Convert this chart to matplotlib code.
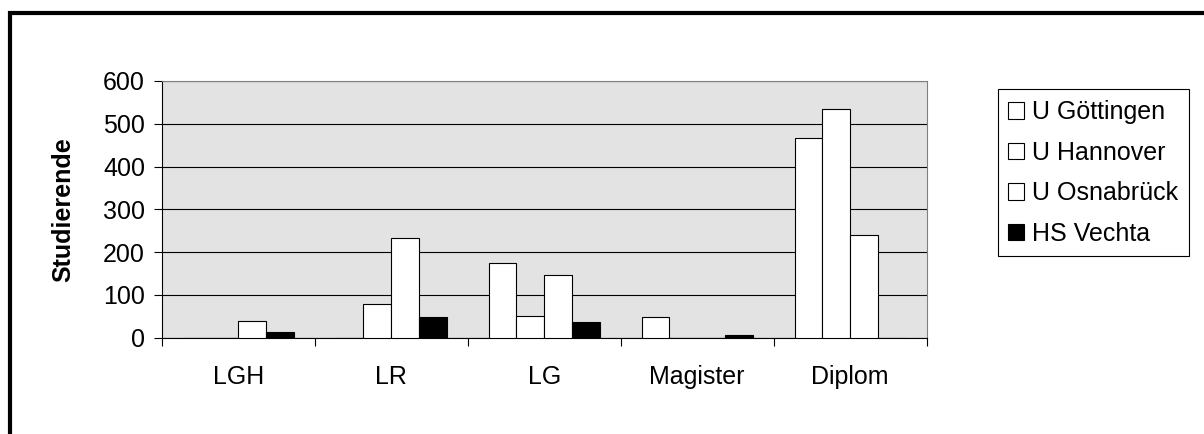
import matplotlib.pyplot as plt
import matplotlib.patches as mpatches
import numpy as np

plt.rcParams['font.family'] = ['Liberation Sans', 'DejaVu Sans']

categories = ["LGH", "LR", "LG", "Magister", "Diplom"]
series = ["U Göttingen", "U Hannover", "U Osnabrück", "HS Vechta"]
goettingen = [0, 0, 175, 48, 466]
hannover = [0, 79, 51, 0, 534]
osnabrueck = [38, 232, 147, 0, 241]
vechta = [14, 49, 37, 6, 0]
values = [goettingen, hannover, osnabrueck, vechta]
colors = ["white", "white", "white", "black"]

fig = plt.figure(figsize=(12.04, 4.34), dpi=100)
ax = fig.add_axes([0.1343, 0.2219, 0.6354, 0.5915])
ax.set_facecolor("#e3e3e3")

x = np.arange(len(categories))
w = 0.182
for i, (name, vals) in enumerate(zip(series, values)):
    ax.bar(x + (i - 1.5) * w, vals, w, color=colors[i], edgecolor="black",
           linewidth=0.8, label=name, zorder=3)

ax.set_xlim(-0.5, len(categories) - 0.5)
ax.set_ylim(0, 600)
ax.set_yticks(range(0, 601, 100))
ax.yaxis.grid(True, color="black", linewidth=0.8, zorder=1)
ax.set_axisbelow(True)

ax.set_xticks(x)
ax.set_xticklabels(categories, fontsize=18)
ax.set_xticks(np.arange(-0.5, len(categories), 1), minor=True)
ax.tick_params(axis="x", which="major", length=0, pad=20)
ax.tick_params(axis="x", which="minor", length=6, width=0.8, direction="out")
ax.tick_params(axis="y", length=6, width=0.8, direction="out", labelsize=18, pad=6)

for s in ["top", "right"]:
    ax.spines[s].set_color("#808080")
    ax.spines[s].set_linewidth(0.8)
for s in ["left", "bottom"]:
    ax.spines[s].set_color("black")
    ax.spines[s].set_linewidth(0.8)

fig.text(63 / 1204, 0.518, "Studierende", rotation=90, ha="center", va="center",
         fontsize=18, fontweight="bold")

leg = ax.legend(loc="upper left", bbox_to_anchor=(997.7 / 1204, 1 - 89.3 / 434),
                bbox_transform=fig.transFigure, fontsize=18, frameon=True,
                fancybox=False, edgecolor="black", framealpha=1,
                handlelength=0.64, handleheight=0.64, handletextpad=0.3,
                labelspacing=0.66, borderpad=0.43, borderaxespad=0)
leg.get_frame().set_linewidth(0.8)

# outer frame of the chart area
frame = mpatches.Rectangle((10 / 1204, -0.2), 1.2, 1.2 - 13 / 434,
                           transform=fig.transFigure, fill=False,
                           edgecolor="black", linewidth=3, clip_on=False)
fig.patches.append(frame)

fig.savefig("out.png", dpi=100)
